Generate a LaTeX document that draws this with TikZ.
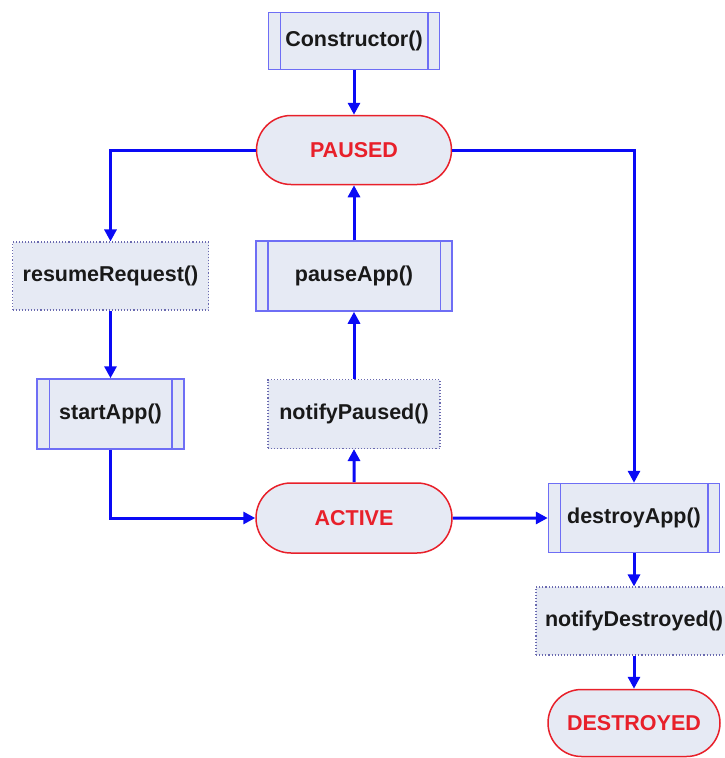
\documentclass[tikz,border=0pt]{standalone}
\usepackage{fontspec}
\setmainfont{Liberation Sans}
\usetikzlibrary{arrows.meta,shapes.misc}
\definecolor{boxfill}{HTML}{E6EAF4}
\definecolor{procblue}{HTML}{6E6EF5}
\definecolor{dotgray}{HTML}{6A6AB0}
\definecolor{statered}{HTML}{E8202A}
\definecolor{arrowblue}{HTML}{0A0AF5}
\tikzset{
  lbl/.style={font=\fontsize{21.5}{25}\selectfont\bfseries, inner sep=0pt, align=center},
  proc/.style={lbl, draw=procblue, line width=1.5pt, fill=boxfill, text=black!90},
  note/.style={lbl, draw=dotgray, dotted, line width=1.1pt, fill=boxfill, text=black!90},
  state/.style={lbl, rounded rectangle, draw=statered, line width=1.5pt, fill=boxfill, text=statered},
  flow/.style={draw=arrowblue, line width=3pt, -{Triangle[width=12pt,length=12pt]}},
  inner/.style={draw=procblue, line width=1.5pt}
}
\begin{document}
\begin{tikzpicture}[x=1pt,y=-1pt]
\useasboundingbox (0,0) rectangle (724,758);
% nodes
\node[proc, minimum width=171pt, minimum height=57pt] (ctor) at (354,41) {Constructor()};
\node[state, minimum width=195pt, minimum height=69pt] (paused) at (354,150) {PAUSED};
\node[note, minimum width=196pt, minimum height=68pt] (resume) at (110.5,276) {resumeRequest()};
\node[proc, minimum width=147pt, minimum height=70pt] (start) at (110.5,414) {startApp()};
\node[proc, minimum width=196pt, minimum height=70pt] (pause) at (354,276) {pauseApp()};
\node[note, minimum width=172pt, minimum height=69pt] (npaused) at (354,414) {notifyPaused()};
\node[state, minimum width=196pt, minimum height=70pt] (active) at (354,518) {ACTIVE};
\node[proc, minimum width=171pt, minimum height=69pt] (destroy) at (634,518) {destroyApp()};
\node[note, minimum width=196pt, minimum height=68pt] (ndestroyed) at (634,621) {notifyDestroyed()};
\node[state, minimum width=172pt, minimum height=67pt] (destroyed) at (634,723) {DESTROYED};
% inner lines of procedure boxes
\foreach \n/\d in {ctor/12.5, start/13, pause/12.5, destroy/12.5}{
  \draw[inner] ([xshift=\d pt]\n.north west) -- ([xshift=\d pt]\n.south west);
  \draw[inner] ([xshift=-\d pt]\n.north east) -- ([xshift=-\d pt]\n.south east);
}
% connectors
\coordinate (pl) at (110.5,150);
\coordinate (pr) at (634,150);
\coordinate (sb) at (110.5,518);
\draw[flow] (ctor) -- (paused);
\draw[flow] (paused.west) -- (pl) -- (resume.north);
\draw[flow] (resume) -- (start);
\draw[flow] (start.south) -- (sb) -- (active.west);
\draw[flow] (active) -- (npaused);
\draw[flow] (npaused) -- (pause);
\draw[flow] (pause) -- (paused);
\draw[flow] (paused.east) -- (pr) -- (destroy.north);
\draw[flow] (active) -- (destroy);
\draw[flow] (destroy) -- (ndestroyed);
\draw[flow] (ndestroyed) -- (destroyed);
\end{tikzpicture}
\end{document}
